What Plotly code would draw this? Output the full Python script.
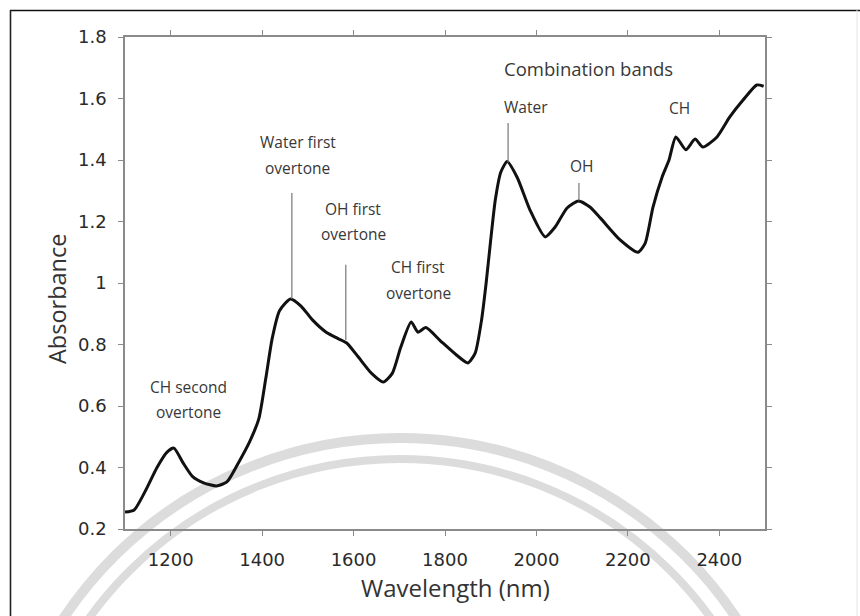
import plotly.graph_objects as go

# NIR absorbance spectrum (wavelength in nm, absorbance)
wavelength = [1100, 1120, 1145, 1170, 1192, 1207, 1227, 1248, 1272, 1300,
              1323, 1348, 1373, 1393, 1408, 1422, 1438, 1462, 1485, 1510,
              1540, 1565, 1585, 1610, 1640, 1665, 1685, 1703, 1726, 1741,
              1758, 1790, 1825, 1850, 1866, 1880, 1890, 1900, 1910, 1922,
              1936, 1958, 1986, 2019, 2041, 2067, 2092, 2117, 2140, 2183,
              2222, 2238, 2255, 2275, 2290, 2305, 2327, 2347, 2364, 2395,
              2423, 2452, 2482, 2497]
absorbance = [0.255, 0.262, 0.325, 0.400, 0.450, 0.463, 0.415, 0.370, 0.350, 0.340,
              0.353, 0.415, 0.485, 0.560, 0.690, 0.820, 0.910, 0.948, 0.925, 0.880,
              0.840, 0.820, 0.805, 0.760, 0.705, 0.678, 0.707, 0.790, 0.873, 0.840,
              0.855, 0.812, 0.766, 0.740, 0.772, 0.880, 1.000, 1.140, 1.270, 1.360,
              1.395, 1.343, 1.237, 1.150, 1.182, 1.244, 1.267, 1.247, 1.211, 1.140,
              1.100, 1.130, 1.247, 1.345, 1.400, 1.475, 1.433, 1.468, 1.442, 1.475,
              1.540, 1.595, 1.644, 1.640]

x_ticks = [1200, 1400, 1600, 1800, 2000, 2200, 2400]
y_ticks = [0.2, 0.4, 0.6, 0.8, 1.0, 1.2, 1.4, 1.6, 1.8]
y_tick_text = ["0.2", "0.4", "0.6", "0.8", "1", "1.2", "1.4", "1.6", "1.8"]

# band labels: (text lines, x, y of first line, font size)
band_labels = [
    (["CH second", "overtone"], 1238, 0.662, 15.5),
    (["Water first", "overtone"], 1478, 1.458, 15.5),
    (["OH first", "overtone"], 1599, 1.241, 15.5),
    (["CH first", "overtone"], 1741, 1.052, 15.5),
    (["Combination bands"], 2113, 1.696, 18.5),
    (["Water"], 1977, 1.572, 15.5),
    (["OH"], 2100, 1.380, 15.5),
    (["CH"], 2314, 1.569, 15.5),
]
# leader lines: (x, y bottom, y top)
leaders = [
    (1465, 0.948, 1.293),
    (1583, 0.815, 1.059),
    (1938, 1.392, 1.520),
    (2093, 1.268, 1.325),
]

# layout geometry in pixels
W, H = 860, 616
ML, MR, MT, MB = 125, 95, 37, 87
PW, PH = W - ML - MR, H - MT - MB


def px(xp):
    return (xp - ML) / PW


def py(yp):
    return (H - MB - yp) / PH


LINE_GAP = 0.083  # absorbance units between label lines
FONT_TXT = "Open Sans, Lato, sans-serif"
FONT_TICK = "DejaVu Sans, sans-serif"

fig = go.Figure()
fig.add_trace(go.Scatter(
    x=wavelength, y=absorbance, mode="lines",
    line=dict(color="#111111", width=3, shape="spline", smoothing=0.6),
    hoverinfo="x+y", showlegend=False,
))

shapes = []
# faint seal watermark arcs
for cx, cy, r, w in [(400, 842, 404, 10), (400, 842, 383, 8)]:
    shapes.append(dict(type="circle", xref="paper", yref="paper",
                       x0=px(cx - r), x1=px(cx + r), y0=py(cy + r), y1=py(cy - r),
                       line=dict(color="#dcdcdc", width=w), layer="below"))
# page frame
shapes.append(dict(type="line", xref="paper", yref="paper",
                   x0=px(10), x1=px(W + 5), y0=py(10.5), y1=py(10.5),
                   line=dict(color="#111111", width=1.6)))
shapes.append(dict(type="line", xref="paper", yref="paper",
                   x0=px(10.5), x1=px(10.5), y0=py(10), y1=py(H + 5),
                   line=dict(color="#222222", width=1.6)))
shapes.append(dict(type="line", xref="paper", yref="paper",
                   x0=px(857), x1=px(857), y0=py(10), y1=py(H + 5),
                   line=dict(color="#e4e4e4", width=1)))
for x, y0, y1 in leaders:
    shapes.append(dict(type="line", xref="x", yref="y", x0=x, x1=x, y0=y0, y1=y1,
                       line=dict(color="#777777", width=1.2)))

annotations = []
for lines, x, y, size in band_labels:
    for i, t in enumerate(lines):
        annotations.append(dict(x=x, y=y - i * LINE_GAP, xref="x", yref="y", text=t,
                                showarrow=False, xanchor="center", yanchor="middle",
                                font=dict(family=FONT_TXT, size=size, color="#383838")))
annotations.append(dict(x=px(455), y=py(587), xref="paper", yref="paper",
                        text="Wavelength (nm)", showarrow=False,
                        xanchor="center", yanchor="middle",
                        font=dict(family=FONT_TXT, size=24, color="#333333")))
annotations.append(dict(x=px(57), y=py(299), xref="paper", yref="paper",
                        text="Absorbance", showarrow=False, textangle=-90,
                        xanchor="center", yanchor="middle",
                        font=dict(family=FONT_TXT, size=23.5, color="#333333")))

axis_common = dict(showline=True, linecolor="#8a8a8a", linewidth=1.5,
                   mirror="ticks", ticks="outside", ticklen=5, tickwidth=1.2,
                   tickcolor="#8a8a8a", showgrid=False, zeroline=False,
                   tickfont=dict(family=FONT_TICK, size=18, color="#2a2a2a"))

fig.update_layout(
    width=W, height=H,
    margin=dict(l=ML, r=MR, t=MT, b=MB),
    paper_bgcolor="white", plot_bgcolor="rgba(0,0,0,0)",
    xaxis=dict(range=[1100, 2500], tickmode="array", tickvals=x_ticks,
               ticklabelstandoff=9, **axis_common),
    yaxis=dict(range=[0.2, 1.8], tickmode="array", tickvals=y_ticks,
               ticktext=y_tick_text, ticklabelstandoff=8, **axis_common),
    shapes=shapes, annotations=annotations,
)

fig.write_html("out.html")
